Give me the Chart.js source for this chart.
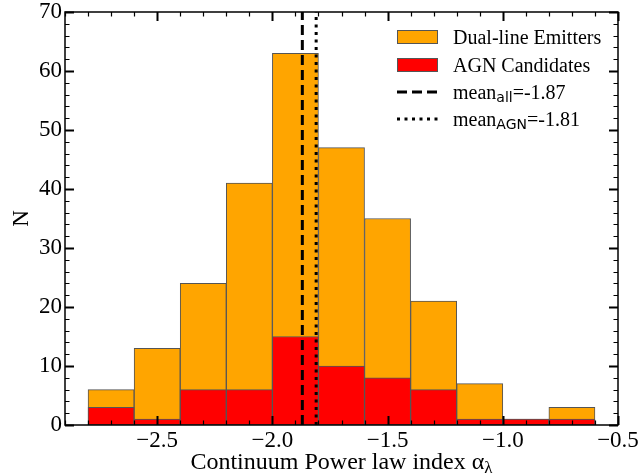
<!DOCTYPE html>
<html>
<head>
<meta charset="utf-8">
<script src="https://cdn.jsdelivr.net/npm/chart.js@4/dist/chart.umd.min.js"></script>
<style>
  body { margin: 0; background: #fff; }
  canvas { display: block; }
</style>
</head>
<body>
<canvas id="hist" width="642" height="476"></canvas>
<script>
// bin centres (bin width 0.2)
const binCenters = [-2.7, -2.5, -2.3, -2.1, -1.9, -1.7, -1.5, -1.3, -1.1, -0.9, -0.7];
const dualCounts = [6, 13, 24, 41, 63, 47, 35, 21, 7, 1, 3];
const agnCounts = [3, 1, 6, 6, 15, 10, 8, 6, 1, 1, 1];
const meanAll = -1.87;
const meanAGN = -1.81;
const xTickValues = [-2.5, -2.0, -1.5, -1.0, -0.5];
const yTickValues = [0, 10, 20, 30, 40, 50, 60, 70];
const seriesLabels = ['Dual-line Emitters', 'AGN Candidates'];

const serif = '"Liberation Serif", "Times New Roman", serif';

function toPoints(vals) {
    return binCenters.map((c, i) => ({ x: c, y: vals[i] }));
}

// inward ticks on all four sides, like the matplotlib frame
const frameTicks = {
    id: 'frameTicks',
    afterDatasetsDraw(chart) {
        const ctx = chart.ctx;
        const a = chart.chartArea;
        const xs = chart.scales.x, ys = chart.scales.y;
        ctx.save();
        ctx.strokeStyle = '#000';
        // x ticks
        for (let k = -29; k <= -5; k++) {
            const v = k / 10;
            const px = Math.round(xs.getPixelForValue(v)) + 0.5;
            const major = k % 5 === 0;
            const len = major ? 9 : 4.5;
            ctx.lineWidth = major ? 2 : 1.2;
            ctx.beginPath();
            ctx.moveTo(px, a.bottom); ctx.lineTo(px, a.bottom - len);
            ctx.moveTo(px, a.top); ctx.lineTo(px, a.top + len);
            ctx.stroke();
        }
        // y ticks
        for (let v = 0; v <= 70; v += 2) {
            const py = Math.round(ys.getPixelForValue(v)) + 0.5;
            const major = v % 10 === 0;
            const len = major ? 9 : 4.5;
            ctx.lineWidth = major ? 2 : 1.2;
            ctx.beginPath();
            ctx.moveTo(a.left, py); ctx.lineTo(a.left + len, py);
            ctx.moveTo(a.right, py); ctx.lineTo(a.right - len, py);
            ctx.stroke();
        }
        // frame
        ctx.lineWidth = 1.5;
        ctx.strokeRect(a.left, a.top, a.right - a.left, a.bottom - a.top);

        // x-axis title with subscript lambda
        const main = 'Continuum Power law index α';
        const sub = 'λ';
        ctx.fillStyle = '#000';
        ctx.textBaseline = 'alphabetic';
        ctx.font = '24px ' + serif;
        const wMain = ctx.measureText(main).width;
        ctx.font = '17px ' + serif;
        const wSub = ctx.measureText(sub).width;
        let x = (a.left + a.right) / 2 - (wMain + wSub) / 2;
        ctx.font = '24px ' + serif;
        ctx.fillText(main, x, 469);
        ctx.font = '17px ' + serif;
        ctx.fillText(sub, x + wMain, 473);
        ctx.restore();
    }
};

// legend with mathtext-like subscripts
const histLegend = {
    id: 'histLegend',
    afterDraw(chart) {
        const ctx = chart.ctx;
        const a = chart.chartArea;
        const px = a.right - 221, tx = a.right - 165;
        const rows = [a.top + 25, a.top + 53, a.top + 80, a.top + 107];
        const ds = chart.data.datasets;
        ctx.save();
        ctx.textBaseline = 'middle';
        ctx.fillStyle = '#000';
        ctx.font = '20px ' + serif;
        for (let i = 0; i < 2; i++) {
            ctx.fillStyle = ds[i].backgroundColor;
            ctx.fillRect(px, rows[i] - 7, 41, 14);
            ctx.strokeStyle = '#555';
            ctx.lineWidth = 1;
            ctx.strokeRect(px + 0.5, rows[i] - 6.5, 40, 13);
            ctx.fillStyle = '#000';
            ctx.fillText(seriesLabels[i], tx, rows[i] + 2);
        }
        const meanRows = [
            { dash: [10, 5], sub: 'all', val: meanAll, w: 3 },
            { dash: [3, 4.5], sub: 'AGN', val: meanAGN, w: 3 }
        ];
        meanRows.forEach((m, j) => {
            const y = rows[2 + j];
            ctx.strokeStyle = '#000';
            ctx.lineWidth = m.w;
            ctx.setLineDash(m.dash);
            ctx.beginPath();
            ctx.moveTo(px, y); ctx.lineTo(px + 41, y);
            ctx.stroke();
            ctx.setLineDash([]);
            let x = tx;
            ctx.font = '20px ' + serif;
            ctx.fillText('mean', x, y + 2);
            x += ctx.measureText('mean').width;
            ctx.font = '14px "DejaVu Sans", sans-serif';
            ctx.fillText(m.sub, x, y + 6);
            x += ctx.measureText(m.sub).width;
            ctx.font = '20px ' + serif;
            ctx.fillText('=' + m.val.toFixed(2), x, y + 2);
        });
        ctx.restore();
    }
};

const chart = new Chart(document.getElementById('hist'), {
    type: 'bar',
    data: {
        datasets: [
            {
                label: seriesLabels[0],
                data: toPoints(dualCounts),
                backgroundColor: '#FFA500',
                borderColor: '#555555',
                borderWidth: 1,
                borderSkipped: false,
                grouped: false,
                barPercentage: 1,
                categoryPercentage: 1,
                order: 3
            },
            {
                label: seriesLabels[1],
                data: toPoints(agnCounts),
                backgroundColor: '#FF0000',
                borderColor: '#555555',
                borderWidth: 1,
                borderSkipped: false,
                grouped: false,
                barPercentage: 1,
                categoryPercentage: 1,
                order: 2
            },
            {
                type: 'line',
                label: 'mean_all',
                data: [{ x: meanAll, y: 0 }, { x: meanAll, y: 70 }],
                borderColor: '#000',
                borderWidth: 3,
                borderDash: [10, 5],
                pointRadius: 0,
                order: 1
            },
            {
                type: 'line',
                label: 'mean_AGN',
                data: [{ x: meanAGN, y: 0 }, { x: meanAGN, y: 70 }],
                borderColor: '#000',
                borderWidth: 3,
                borderDash: [3, 4.5],
                pointRadius: 0,
                order: 0
            }
        ]
    },
    options: {
        responsive: false,
        animation: false,
        layout: { padding: { top: 12, right: 24, left: 0, bottom: 0 } },
        plugins: {
            legend: { display: false },
            tooltip: { enabled: false }
        },
        scales: {
            x: {
                type: 'linear',
                min: -2.9,
                max: -0.5,
                offset: false,
                grid: { display: false, drawTicks: false, offset: false },
                border: { display: false },
                afterBuildTicks: (s) => { s.ticks = xTickValues.map(v => ({ value: v })); },
                afterFit: (s) => { s.height = 51; s.paddingLeft = 0; s.paddingRight = 0; },
                ticks: {
                    padding: 2,
                    color: '#000',
                    maxRotation: 0,
                    font: { family: serif, size: 23 },
                    callback: (v) => Number(v).toFixed(1).replace('-', '\u2212')
                },
                title: { display: false }
            },
            y: {
                min: 0,
                max: 70,
                grid: { display: false, drawTicks: false },
                border: { display: false },
                afterBuildTicks: (s) => { s.ticks = yTickValues.map(v => ({ value: v })); },
                afterFit: (s) => { s.width = 65; s.paddingTop = 0; s.paddingBottom = 0; },
                ticks: {
                    padding: 3,
                    color: '#000',
                    font: { family: serif, size: 23 }
                },
                title: {
                    display: true,
                    text: 'N',
                    color: '#000',
                    padding: { top: 8, bottom: 0 },
                    font: { family: serif, size: 23 }
                }
            }
        }
    },
    plugins: [frameTicks, histLegend]
});
</script>
</body>
</html>
